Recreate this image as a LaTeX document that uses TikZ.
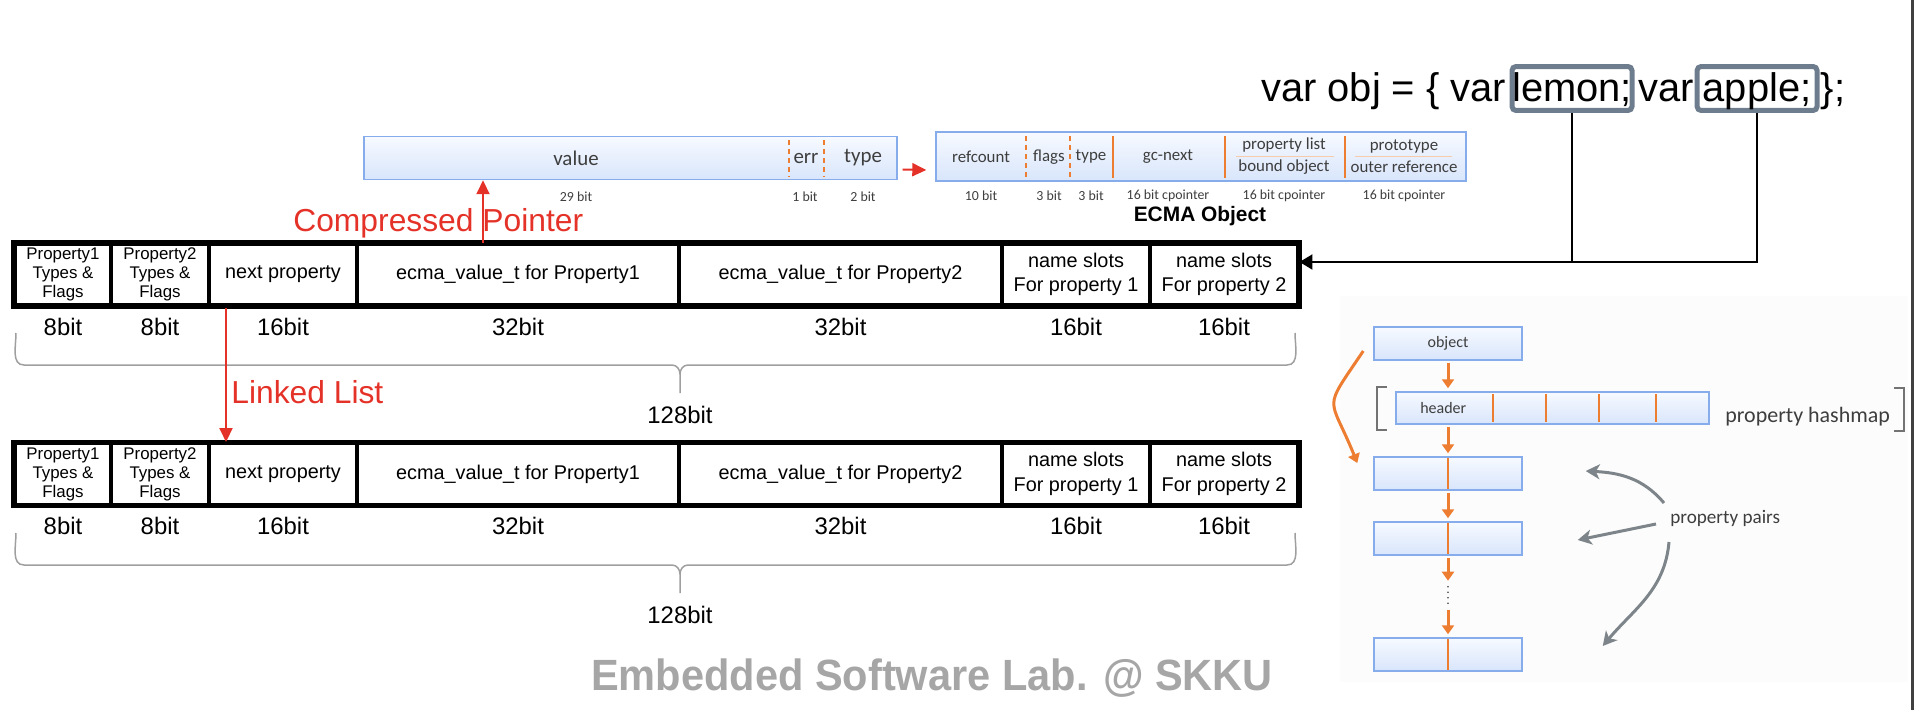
\documentclass[tikz,border=0pt]{standalone}
\usepackage{fontspec}
\setmainfont{Liberation Sans}
\newfontfamily\cabin{Carlito}
\newfontfamily\footfont[FakeStretch=0.95]{Liberation Sans}
\usepackage{xcolor}
\usepackage{tikz}
\usetikzlibrary{arrows.meta,positioning,calc}
\definecolor{redc}{RGB}{229,50,40}
\definecolor{orc}{RGB}{237,125,49}
\definecolor{boxline}{RGB}{135,172,236}
\definecolor{boxtop}{RGB}{247,250,255}
\definecolor{boxbot}{RGB}{216,229,251}
\definecolor{txtc}{RGB}{62,62,62}
\definecolor{codeg}{RGB}{110,125,142}
\definecolor{arrg}{RGB}{125,133,138}
\definecolor{footg}{RGB}{166,166,166}
\newcommand{\pixel}{0.2mm}

\begin{document}
\begin{tikzpicture}[x=0.02cm,y=-0.02cm,
	cell/.style={draw,line width=0.6mm,minimum height=61*\pixel,inner sep=0pt,align=center,font=\fontsize{11.3}{14}\selectfont},
	smallcell/.style={cell,font=\fontsize{9.6}{10.8}\selectfont},
	bitlbl/.style={font=\fontsize{13.6}{16}\selectfont},
	brace/.style={draw=gray!75,line width=0.3mm},
	redarr/.style={draw=redc,line width=0.4mm,-{Triangle[length=2.8mm,width=2.6mm]}},
	redtext/.style={text=redc,font=\fontsize{18.1}{21}\selectfont,inner sep=0pt},
	bluebox/.style={draw=boxline,line width=0.3mm,top color=boxtop,bottom color=boxbot,inner sep=0pt},
	valtext/.style={text=txtc,font=\cabin\fontsize{11.9}{14}\selectfont},
	ecmatext/.style={text=txtc,font=\cabin\fontsize{9.6}{12.5}\selectfont,align=center},
	smalllbl/.style={text=txtc,font=\cabin\fontsize{7.9}{9.5}\selectfont},
	ordash/.style={draw=orc,line width=0.4mm,dash pattern=on 1mm off 0.8mm},
	orline/.style={draw=orc,line width=0.45mm},
	codebox/.style={draw=codeg,line width=1mm,rounded corners=0.8mm,minimum width=120*\pixel,minimum height=44*\pixel,inner sep=0pt,text height=6.6mm,text depth=1.4mm,font=\fontsize{22.7}{27}\selectfont},
	codetext/.style={inner sep=0pt,font=\fontsize{22.7}{27}\selectfont},
	codeline/.style={line width=0.45mm},
	hmbox/.style={bluebox,minimum width=148*\pixel,minimum height=33*\pixel,text=txtc,font=\cabin\fontsize{9.1}{11}\selectfont},
	hmtext/.style={text=txtc,inner sep=0pt,font=\cabin\fontsize{10.9}{13}\selectfont},
	orarr/.style={draw=orc,line width=0.6mm,-{Triangle[length=1.8mm,width=2.4mm]}},
	grayarr/.style={draw=arrg,line width=0.6mm,-{Stealth[length=2.8mm,width=3mm,inset=0.8mm]}},
	dots/.style={draw=txtc,line width=0.35mm,line cap=round,dash pattern=on 0pt off 1.1mm},
	bracket/.style={draw=gray!90!black,line width=0.4mm},
	footer/.style={text=footg,font=\footfont\bfseries\fontsize{24.9}{30}\selectfont,inner sep=0pt}]
	\useasboundingbox (0,0) rectangle (1914,710);
	\fill[black!1] (1340,296) rectangle (1908,682);
	\draw[line width=0.6mm,black!75] (1912,0) -- (1912,710);

	\foreach \tb/\ty in {ta/274.5,tb/474}{
		\foreach \xa/\xb/\n [count=\i] in {15/111/1,111/209/2}
			\node[smallcell,minimum width={(\xb-\xa)*\pixel}] (\tb\i) at ({(\xa+\xb)/2},\ty) {Property\n\\Types \&\\Flags};
		\foreach \xa/\xb/\txt [count=\i from 3] in {209/357/{next property},357/679/{ecma\_value\_t for Property1},679/1002/{ecma\_value\_t for Property2},1002/1150/{name slots\\For property 1},1150/1298/{name slots\\For property 2}}
			\node[cell,minimum width={(\xb-\xa)*\pixel}] (\tb\i) at ({(\xa+\xb)/2},\ty) {\txt};
		\draw[line width=0.9mm] (\tb1.north west) rectangle (\tb7.south east);
		\foreach \w [count=\i] in {8,8,16,32,32,16,16}
			\node[bitlbl] (\tb-bit\i) at ([yshift=-20*\pixel]\tb\i.south) {\w bit};
	}
	\foreach \dy/\s in {0/suma,200/sumb}{
		\draw[brace] (16,{333+\dy}) to[out=-90,in=180] (24,{365+\dy}) -- (672,{365+\dy}) to[out=0,in=90] (680,{374+\dy}) -- (680,{393+\dy});
		\draw[brace] (1295,{333+\dy}) to[out=-90,in=0] (1287,{365+\dy}) -- (688,{365+\dy}) to[out=180,in=90] (680,{374+\dy});
		\node[bitlbl] (\s) at (680,{415+\dy}) {128bit};
	}

	\node[bluebox,minimum width=533*\pixel,minimum height=43*\pixel] (valbox) at (630.5,158) {};
	\foreach \x in {789,824}
		\draw[ordash] (\x,140) -- (\x,177);
	\node[valtext] (vval) at (576,158) {value};
	\node[valtext] (verr) at (806,158) {err};
	\node[valtext] (vtype) at (863,158) {type};
	\node[smalllbl] (v29) at (576,197) {29 bit};
	\node[smalllbl] (v1) at (805,197) {1 bit};
	\node[smalllbl] (v2) at (863,197) {2 bit};

	\node[bluebox,minimum width=530*\pixel,minimum height=49*\pixel] (ecma) at (1201,156.5) {};
	\foreach \x in {1026,1070}
		\draw[ordash] (\x,136) -- (\x,178);
	\foreach \x in {1113,1225,1345}
		\draw[orline] (\x,136) -- (\x,178);
	\foreach \x/\t [count=\i] in {981/refcount,1049/flags,1091/type,1168/gc-next}
		\node[ecmatext] (ef\i) at (\x,157) {\t};
	\draw[draw=orc!40,line width=0.2mm] (1236,156) -- (1334,156);
	\draw[draw=orc!40,line width=0.2mm] (1355,156) -- (1452,156);
	\node[ecmatext] (ef5) at (1284,156) {property list\\bound object};
	\node[ecmatext] (ef6) at (1404,156) {prototype\\outer reference};
	\foreach \x/\t [count=\i] in {981/10 bit,1049/3 bit,1091/3 bit,1168/16 bit cpointer,1284/16 bit cpointer,1404/16 bit cpointer}
		\node[smalllbl] (el\i) at (\x,196) {\t};
	\node[font=\bfseries\fontsize{11.9}{14}\selectfont] (ecmaname) at (1200,216) {ECMA Object};

	\draw[redarr] ([xshift=5*\pixel,yshift=-11.5*\pixel]valbox.east) -- ([xshift=-9*\pixel,yshift=-13.5*\pixel]ecma.west);
	\coordinate (cpbase) at ([xshift=-35*\pixel]ta4.north);
	\draw[redarr] (cpbase) -- (cpbase |- valbox.south);
	\node[redtext,anchor=base west] (cptxt) at (293,231) {Compressed Pointer};
	\coordinate (llbase) at ([xshift=-57*\pixel]ta3.south);
	\draw[redarr,shorten <=0.4mm] (llbase) -- (llbase |- tb3.north);
	\node[redtext,anchor=base west] (lltxt) at (231,403) {Linked List};

	\node[codebox] (lemon) at (1572,88.5) {lemon;};
	\node[codetext,anchor=base east] (code1) at ([xshift=-3*\pixel]lemon.base west) {var obj = \{ var};
	\node[codetext,anchor=base west] (code2) at ([xshift=4*\pixel]lemon.base east) {var};
	\node[codebox,anchor=base west,minimum width=120*\pixel] (apple) at (code2.base east) {apple;};
	\node[codetext,anchor=base west] (code3) at ([xshift=1*\pixel]apple.base east) {\};};
	\coordinate (tip) at ([yshift=12.5*\pixel]ta7.east);
	\draw[codeline] (lemon.south) -- (lemon.south |- tip);
	\draw[codeline,-{Triangle[length=2.6mm,width=3mm]}] (apple.south) |- (tip);

	\node[hmbox] (hobj) at (1448,343.5) {object};
	\node[hmbox,minimum width=313*\pixel,minimum height=32*\pixel] (hhdr) at (1552.5,408) {};
	\node[hmtext,font=\cabin\fontsize{9.1}{11}\selectfont] (hhdrtxt) at ([xshift=48*\pixel]hhdr.west) {header};
	\foreach \dx in {98,151,204,261}
		\draw[orline] ([xshift=\dx*\pixel,yshift=-3*\pixel]hhdr.north west) -- ([xshift=\dx*\pixel,yshift=3*\pixel]hhdr.south west);
	\foreach \n/\y in {1/473.5,2/538.5,3/654.5}{
		\node[hmbox] (hp\n) at (1448,\y) {};
		\draw[orline] ([yshift=-2*\pixel]hp\n.north) -- ([yshift=2*\pixel]hp\n.south);
	}
	\draw[bracket] (1387,387) -- (1377,387) -- (1377,430) -- (1387,430);
	\draw[bracket] (1894,388) -- (1904,388) -- (1904,431) -- (1894,431);
	\node[hmtext,anchor=west,font=\cabin\fontsize{12.5}{15}\selectfont] (phm) at (1725,417) {property hashmap};
	\node[hmtext,anchor=west] (pp) at (1670,518) {property pairs};

	\draw[orarr,shorten <=0.4mm,shorten >=0.6mm] (hobj.south) -- (hobj.south |- hhdr.north);
	\draw[orarr,shorten <=0.4mm,shorten >=0.6mm] (hobj.south |- hhdr.south) -- (hp1.north);
	\draw[orarr,shorten <=0.4mm,shorten >=0.6mm] (hp1.south) -- (hp2.north);
	\draw[orarr,shorten <=0.4mm] (hp2.south) -- ([yshift=-25*\pixel]hp2.south);
	\draw[dots] ([yshift=-31*\pixel]hp2.south) -- ([yshift=-50*\pixel]hp2.south);
	\draw[orarr,shorten >=0.6mm] ([yshift=-54*\pixel]hp2.south) -- (hp3.north);
	\draw[orarr] ([xshift=-10*\pixel,yshift=-7.5*\pixel]hobj.west) to[out=236,in=112,looseness=1.7] ([xshift=-16*\pixel,yshift=10.5*\pixel]hp1.west);

	\draw[grayarr] ([xshift=-6*\pixel,yshift=15*\pixel]pp.west) to[out=130,in=-3] ([xshift=63*\pixel,yshift=2.5*\pixel]hp1.east);
	\draw[grayarr] ([xshift=-14*\pixel,yshift=-6*\pixel]pp.west) -- ([xshift=55*\pixel,yshift=-1.5*\pixel]hp2.east);
	\draw[grayarr] ([xshift=-1*\pixel,yshift=-24*\pixel]pp.west) to[out=-95,in=50] ([xshift=80*\pixel,yshift=8.5*\pixel]hp3.east);

	\node[footer,anchor=base] (lab) at (932,690) {Embedded Software Lab. @ SKKU};
\end{tikzpicture}
\end{document}
